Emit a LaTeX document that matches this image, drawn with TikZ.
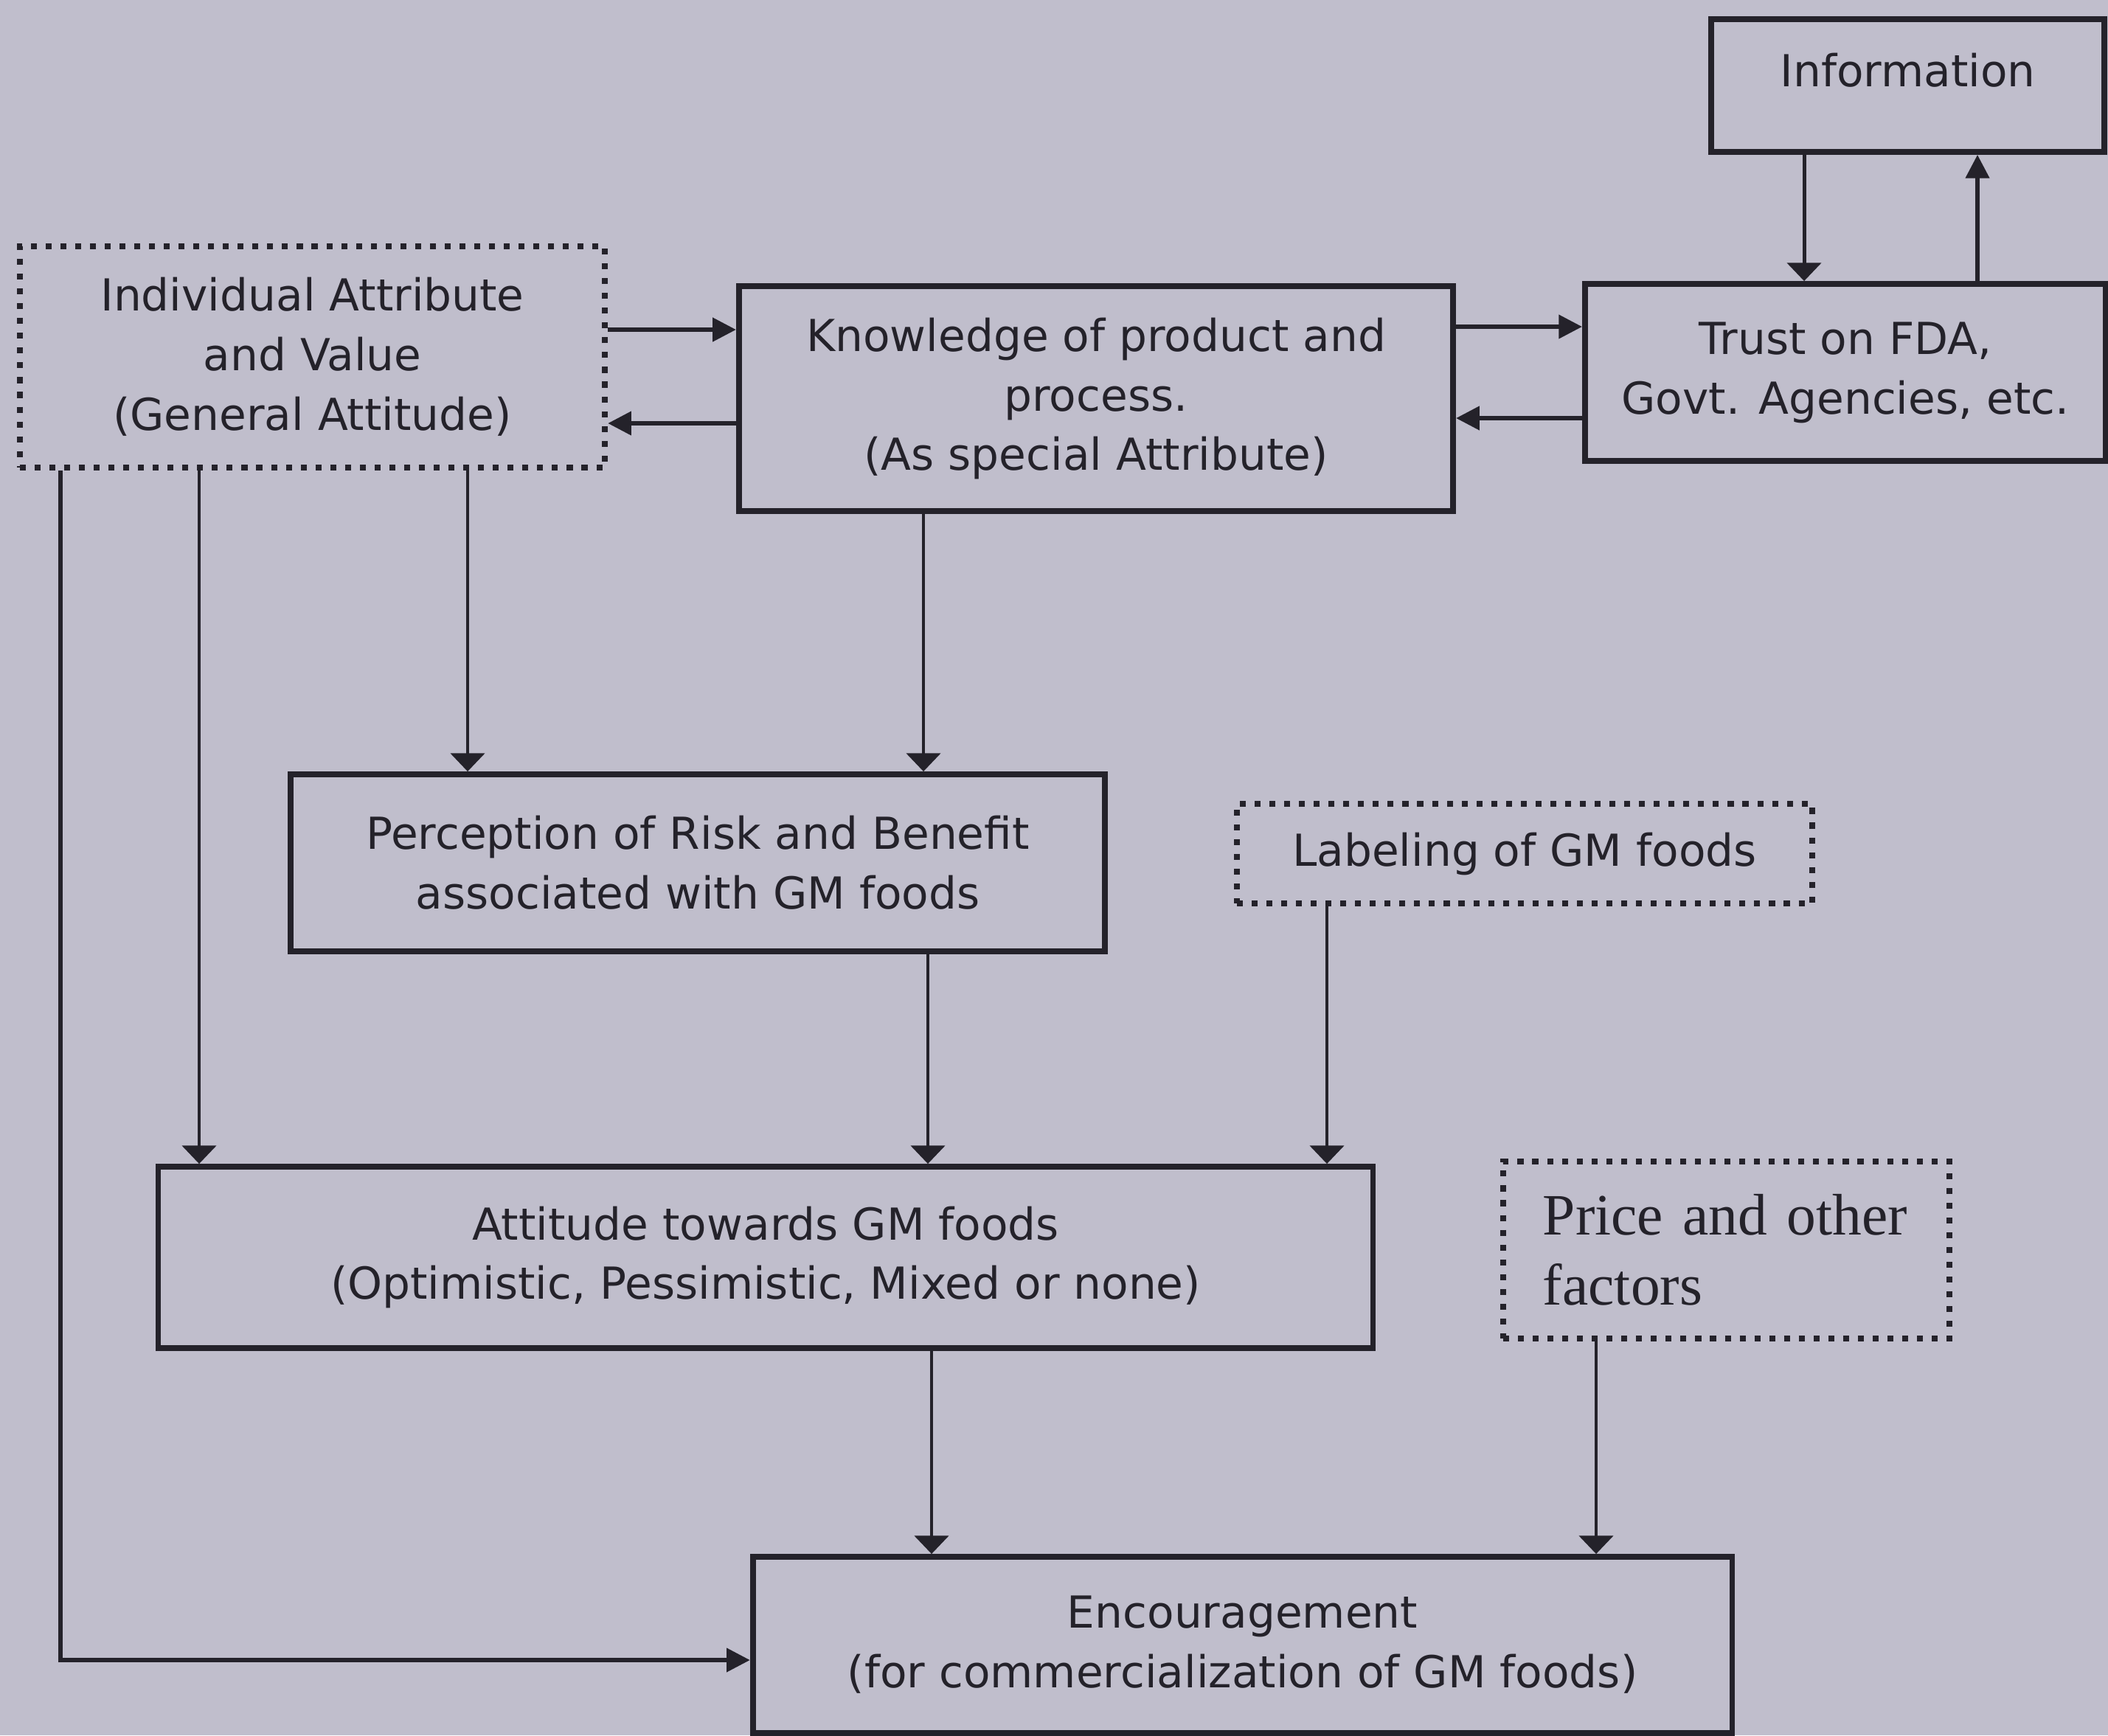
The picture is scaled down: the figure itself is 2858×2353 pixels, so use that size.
\documentclass[tikz,border=0pt]{standalone}
\usepackage{fontspec}
\setmainfont{DejaVu Sans}
\newfontfamily\serifp{Liberation Serif}
\usetikzlibrary{arrows.meta}
\definecolor{bg}{HTML}{C0BECC}
\definecolor{ink}{HTML}{24222A}
\begin{document}
\begin{tikzpicture}[x=0.01cm,y=-0.01cm,
  box/.style={draw=ink, line width=2.2pt, text=ink, align=center, inner sep=0pt,
              font=\fontsize{17}{23}\selectfont},
  dbox/.style={box, line width=2.3pt, dash pattern=on 2.3pt off 3.4pt},
  arr/.style={draw=ink, line width=1.5pt, -{Triangle[width=9pt,length=9pt]}},
  darr/.style={draw=ink, line width=1.4pt, -{Triangle[width=13pt,length=7pt]}},
]
\fill[bg] (0,0) rectangle (2858,2353);
\useasboundingbox (0,0) rectangle (2858,2353);

\node[box, minimum width=5.33cm, minimum height=1.80cm, text depth=12pt] (info) at (2586.5,116) {Information};
\node[dbox, minimum width=7.93cm, minimum height=3.00cm] (indiv) at (423.5,484)
  {Individual Attribute\\and Value\\(General Attitude)};
\node[box, minimum width=9.68cm, minimum height=3.05cm] (know) at (1486,540.5)
  {Knowledge of product and\\process.\\(As special Attribute)};
\node[box, minimum width=7.06cm, minimum height=2.40cm] (trust) at (2502,505)
  {Trust on FDA,\\Govt. Agencies, etc.};
\node[box, minimum width=11.04cm, minimum height=2.40cm] (perc) at (946,1170)
  {Perception of Risk and Benefit\\associated with GM foods};
\node[dbox, minimum width=7.80cm, minimum height=1.35cm] (lab) at (2067,1157.5)
  {Labeling of GM foods};
\node[box, minimum width=16.46cm, minimum height=2.46cm] (att) at (1038,1705)
  {Attitude towards GM foods\\(Optimistic, Pessimistic, Mixed or none)};
\node[dbox, minimum width=6.05cm, minimum height=2.40cm, align=left, text width=4.97cm,
      font=\serifp\fontsize{22.6}{27}\selectfont] (price) at (2340.5,1695)
  {Price and other\\factors};
\node[box, minimum width=13.27cm, minimum height=2.39cm] (enc) at (1684.5,2230.5)
  {Encouragement\\(for commercialization of GM foods)};

\coordinate (xa) at (82,0);
\coordinate (xb) at (270,0);
\coordinate (xc) at (634,0);
\coordinate (xd) at (1252,0);
\coordinate (xe) at (1258,0);
\coordinate (xf) at (1799,0);
\coordinate (xg) at (1263,0);
\coordinate (xh) at (2164,0);
\coordinate (xi) at (2446,0);
\coordinate (xj) at (2681,0);
\coordinate (ya) at (0,447);
\coordinate (yb) at (0,574);
\coordinate (yc) at (0,443);
\coordinate (yd) at (0,567);
\coordinate (ye) at (0,2251);

\draw[arr] (indiv.east |- ya) -- (know.west |- ya);
\draw[arr] (know.west |- yb) -- (indiv.east |- yb);
\draw[arr] (know.east |- yc) -- (trust.west |- yc);
\draw[arr] (trust.west |- yd) -- (know.east |- yd);
\draw[darr] (info.south -| xi) -- (trust.north -| xi);
\draw[arr] (trust.north -| xj) -- (info.south -| xj);
\draw[darr] (indiv.south -| xc) -- (perc.north -| xc);
\draw[darr] (know.south -| xd) -- (perc.north -| xd);
\draw[darr] (indiv.south -| xb) -- (att.north -| xb);
\draw[darr] (perc.south -| xe) -- (att.north -| xe);
\draw[darr] (lab.south -| xf) -- (att.north -| xf);
\draw[darr] (att.south -| xg) -- (enc.north -| xg);
\draw[darr] (price.south -| xh) -- (enc.north -| xh);
\draw[arr] (indiv.south -| xa) |- (enc.west |- ye);
\end{tikzpicture}
\end{document}
